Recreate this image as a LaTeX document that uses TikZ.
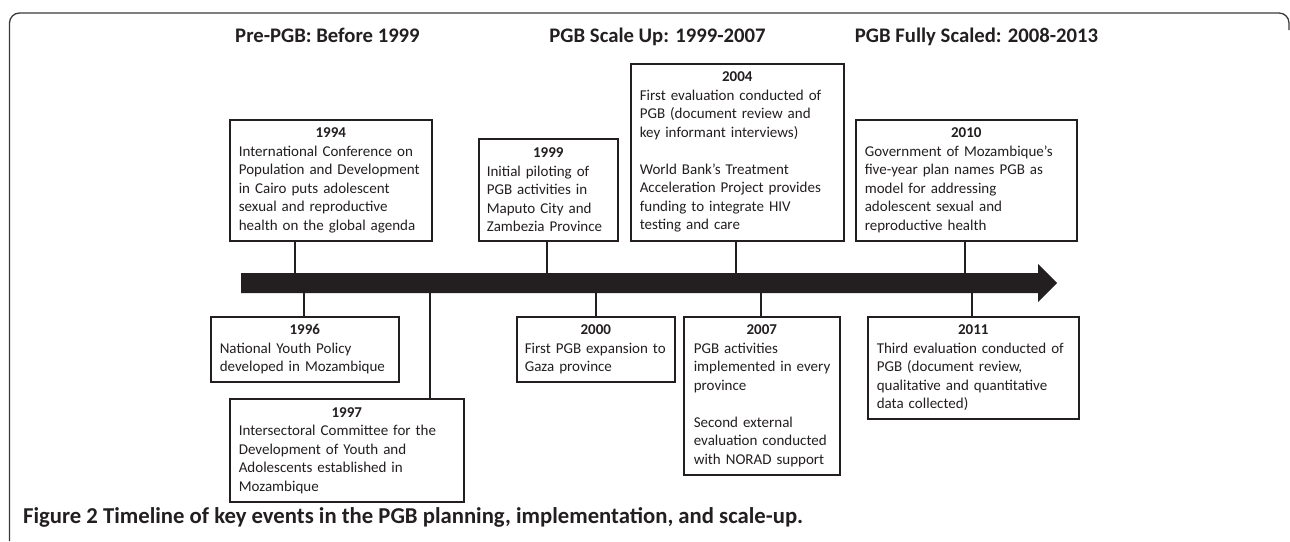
\documentclass[tikz,border=0pt]{standalone}
\usepackage{fontspec}
\setmainfont{Carlito}
\definecolor{ink}{HTML}{231F20}
\definecolor{framec}{HTML}{3A3A3A}
\tikzset{
  evbox/.style={draw=ink, line width=1.6pt, fill=white, anchor=north west, inner sep=0pt,
    align=left, text=ink, font=\fontsize{15}{18.5}\selectfont},
  tick/.style={draw=ink, line width=1.8pt},
  period/.style={anchor=base, text=ink, font=\fontsize{20.7}{24}\selectfont\bfseries},
}
\newcommand{\yr}[1]{{\centering\textbf{#1}\par}}
\newcommand{\evln}[1]{\mbox{#1}\\}
\newcommand{\evlz}[1]{\mbox{#1}}
\begin{document}
\begin{tikzpicture}[x=1pt,y=-1pt]
\useasboundingbox (0,0) rectangle (1290,541);
% frame
\draw[framec, line width=1.3pt, rounded corners=10pt] (9.5,541) -- (9.5,13) -- (1289,13) -- (1289,30);
% period titles
\node[period] (t1) at (327.5,42.7) {Pre-PGB: Before 1999};
\node[period] (t2) at (657.5,42.7) {PGB Scale Up: 1999-2007};
\node[period] (t3) at (976.5,42.7) {PGB Fully Scaled: 2008-2013};
% timeline arrow
\fill[ink] (241,273) -- (1038,273) -- (1038,264) -- (1057,283) -- (1038,302) -- (1038,293) -- (241,293) -- cycle;
\coordinate (a1994) at (295,273);
\coordinate (a1999) at (547,273);
\coordinate (a2004) at (736,273);
\coordinate (a2010) at (965,273);
\coordinate (a1996) at (304,293);
\coordinate (a1997) at (430,293);
\coordinate (a2000) at (596,293);
\coordinate (a2007) at (761,293);
\coordinate (a2011) at (972,293);
% boxes above
\node[evbox, minimum width=202, minimum height=121, text width=184] (b1994) at (229,119)
 {\yr{1994}\evln{International Conference on}\evln{Population and Development}\evln{in Cairo puts adolescent}\evln{sexual and reproductive}\evlz{health on the global agenda}};
\node[evbox, minimum width=139, minimum height=102, text width=123] (b1999) at (478,138)
 {\yr{1999}\evln{Initial piloting of}\evln{PGB activities in}\evln{Maputo City and}\evlz{Zambezia Province}};
\node[evbox, minimum width=213, minimum height=177, text width=195] (b2004) at (630,63)
 {\yr{2004}\evln{First evaluation conducted of}\evln{PGB (document review and}\mbox{key informant interviews)}\\[18.5pt]\evln{World Bank’s Treatment}\evln{Acceleration Project provides}\evln{funding to integrate HIV}\evlz{testing and care}};
\node[evbox, minimum width=221, minimum height=121, text width=203] (b2010) at (855,119)
 {\yr{2010}\evln{Government of Mozambique’s}\evln{five-year plan names PGB as}\evln{model for addressing}\evln{adolescent sexual and}\evlz{reproductive health}};
% boxes below
\node[evbox, minimum width=188, minimum height=65, text width=170] (b1996) at (210,316)
 {\yr{1996}\evln{National Youth Policy}\evlz{developed in Mozambique}};
\node[evbox, minimum width=234, minimum height=103, text width=216] (b1997) at (229,398)
 {\yr{1997}\evln{Intersectoral Committee for the}\evln{Development of Youth and}\evln{Adolescents established in}\evlz{Mozambique}};
\node[evbox, minimum width=158, minimum height=65, text width=142] (b2000) at (516,316)
 {\yr{2000}\evln{First PGB expansion to}\evlz{Gaza province}};
\node[evbox, minimum width=156, minimum height=158, text width=136] (b2007) at (683,316)
 {\yr{2007}\evln{PGB activities}\evln{implemented in every}\mbox{province}\\[18.5pt]\evln{Second external}\evln{evaluation conducted}\evlz{with NORAD support}};
\node[evbox, minimum width=211, minimum height=102, text width=193] (b2011) at (867,316)
 {\yr{2011}\evln{Third evaluation conducted of}\evln{PGB (document review,}\evln{qualitative and quantitative}\evlz{data collected)}};
% connectors
\foreach \y in {1994,1999,2004,2010}{
  \draw[tick] (b\y.south -| a\y) -- (a\y);
}
\foreach \y in {1996,1997,2000,2007,2011}{
  \draw[tick] (b\y.north -| a\y) -- (a\y);
}
% caption
\node[anchor=base west, inner sep=0pt, text=ink, font=\fontsize{22.7}{27}\selectfont\bfseries] (cap) at (23,523)
 {Figure 2 Timeline of key events in the PGB planning, implementation, and scale-up.};
\end{tikzpicture}
\end{document}
